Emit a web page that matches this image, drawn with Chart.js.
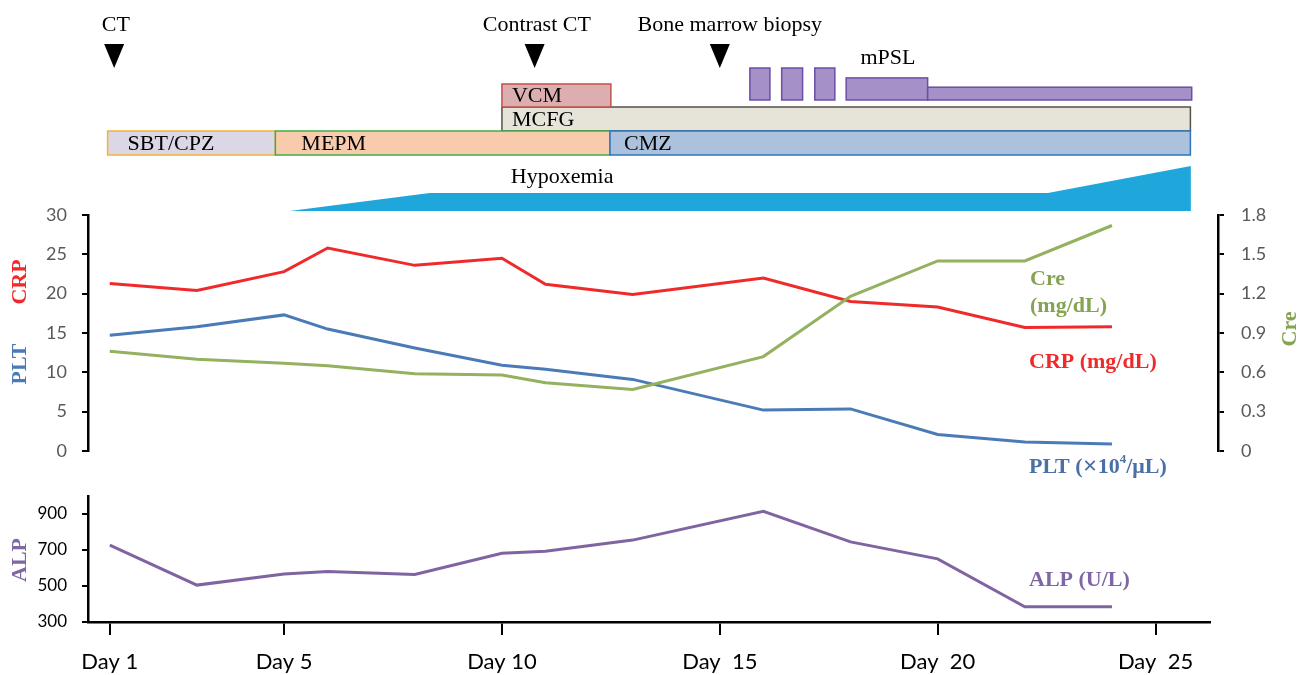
<!DOCTYPE html>
<html>
<head>
<meta charset="utf-8">
<script src="https://cdn.jsdelivr.net/npm/chart.js@4.4.0/dist/chart.umd.min.js"></script>
<style>
  html, body { margin: 0; padding: 0; background: #fff; }
  #wrap { position: relative; width: 1311px; height: 675px; }
  #mainChart { position: absolute; left: 0; top: 0; }
  #alpChart { position: absolute; left: 0; top: 480px; }
</style>
</head>
<body>
<div id="wrap">
  <canvas id="mainChart" width="1311" height="480"></canvas>
  <canvas id="alpChart" width="1311" height="195"></canvas>
</div>
<script>
// Lab values by hospital day
const days = [1, 3, 5, 6, 8, 10, 11, 13, 16, 18, 20, 22, 24];
const crp = [21.3, 20.4, 22.8, 25.8, 23.6, 24.5, 21.2, 19.9, 22.0, 19.0, 18.3, 15.7, 15.8];
const plt = [14.7, 15.8, 17.3, 15.5, 13.1, 10.9, 10.4, 9.1, 5.2, 5.35, 2.1, 1.15, 0.9];
const cre = [0.76, 0.70, 0.67, 0.65, 0.59, 0.58, 0.52, 0.47, 0.72, 1.18, 1.45, 1.45, 1.72];
const alp = [727, 505, 567, 580, 564, 682, 693, 755, 915, 745, 651, 385, 385];

// Axis ticks
const dayTicks = [1, 5, 10, 15, 20, 25];
const dayTickLabels = ['Day 1', 'Day 5', 'Day 10', 'Day  15', 'Day  20', 'Day  25'];
const leftTicks = [0, 5, 10, 15, 20, 25, 30];
const creTicks = [0, 0.3, 0.6, 0.9, 1.2, 1.5, 1.8];
const alpTicks = [300, 500, 700, 900];

// Examinations
const events = ['CT', 'Contrast CT', 'Bone marrow biopsy'];
const eventDays = [1.1, 10.75, 15.0];
const eventLabelDays = [1.14, 10.8, 15.23];

// Treatments (day ranges)
const drugs = ['SBT/CPZ', 'MEPM', 'CMZ', 'MCFG', 'VCM'];
const drugStart = [0.95, 4.8, 12.48, 10.0, 10.0];
const drugEnd = [4.8, 12.48, 25.8, 25.8, 12.5];
const mpslStart = [15.69, 16.42, 17.18, 17.9, 19.77];
const mpslEnd = [16.15, 16.9, 17.64, 19.77, 25.83];
const mpslLevel = [1, 1, 1, 0.69, 0.4];
const hypoxDays = [5.13, 8.34, 22.53, 25.81];
const hypoxLevel = [0, 1, 1, 2.5];

const SERIF = '"Liberation Serif", "Times New Roman", serif';
const SANS = 'Lato, "Open Sans", sans-serif';

const RED = '#f02a2a';
const BLUE = '#4a7bb6';
const GREEN = '#93b15f';
const PURPLE = '#8064a2';

// x range: both panels share the same day->pixel mapping
const X_MIN = 0.5;
const X_MAX_ALP = 26.25;
const X_MAX_MAIN = X_MIN + (X_MAX_ALP - X_MIN) * (1218 - 88) / (1210 - 88);

// bar look per drug
const drugStyle = {
    'SBT/CPZ': { top: 131, h: 24, fill: '#dcd7e7', stroke: '#f5b335', pad: 20 },
    'MEPM':    { top: 131, h: 24, fill: '#f8cbad', stroke: '#3fae4a', pad: 26 },
    'CMZ':     { top: 131, h: 24, fill: '#abc1dc', stroke: '#2e75c0', pad: 14 },
    'MCFG':    { top: 107, h: 24, fill: '#e6e3d8', stroke: '#55524a', pad: 10 },
    'VCM':     { top: 84,  h: 23, fill: '#ddaeb0', stroke: '#c0504d', pad: 10 }
};

const makeLine = (values, color, axis) => ({
    data: days.map((d, i) => ({ x: d, y: values[i] })),
    borderColor: color,
    borderWidth: 3,
    pointRadius: 0,
    tension: 0,
    fill: false,
    yAxisID: axis
});

function vText(ctx, text, x, y, color) {
    ctx.save();
    ctx.translate(x, y);
    ctx.rotate(-Math.PI / 2);
    ctx.fillStyle = color;
    ctx.font = `bold 22px ${SERIF}`;
    ctx.textAlign = 'center';
    ctx.textBaseline = 'middle';
    ctx.fillText(text, 0, 0);
    ctx.restore();
}

const timelinePlugin = {
    id: 'timeline',
    afterDraw(chart) {
        const { ctx } = chart;
        const px = d => chart.scales.x.getPixelForValue(d);
        ctx.save();

        // examinations with arrow heads
        ctx.fillStyle = '#000';
        ctx.font = `22px ${SERIF}`;
        ctx.textAlign = 'center';
        ctx.textBaseline = 'middle';
        events.forEach((name, i) => {
            ctx.fillText(name, px(eventLabelDays[i]), 25);
            const cx = px(eventDays[i]);
            ctx.beginPath();
            ctx.moveTo(cx - 10, 44);
            ctx.lineTo(cx + 10, 44);
            ctx.lineTo(cx, 68);
            ctx.closePath();
            ctx.fill();
        });

        // drug bars (MCFG/VCM first so the bottom row sits over their edges)
        ctx.lineWidth = 1.5;
        ['MCFG', 'VCM', 'SBT/CPZ', 'MEPM', 'CMZ'].forEach(name => {
            const i = drugs.indexOf(name);
            const st = drugStyle[name];
            const x0 = px(drugStart[i]), x1 = px(drugEnd[i]);
            ctx.fillStyle = st.fill;
            ctx.strokeStyle = st.stroke;
            ctx.fillRect(x0, st.top, x1 - x0, st.h);
            ctx.strokeRect(x0, st.top, x1 - x0, st.h);
        });
        ctx.fillStyle = '#000';
        ctx.textAlign = 'left';
        drugs.forEach((name, i) => {
            const st = drugStyle[name];
            ctx.fillText(name, px(drugStart[i]) + st.pad, st.top + st.h / 2 + 1);
        });

        // mPSL blocks
        ctx.fillStyle = '#a690c8';
        ctx.strokeStyle = '#6a4fa6';
        mpslStart.forEach((s, i) => {
            const x0 = px(s), x1 = px(mpslEnd[i]);
            const h = 32 * mpslLevel[i];
            ctx.fillRect(x0, 100 - h, x1 - x0, h);
            ctx.strokeRect(x0, 100 - h, x1 - x0, h);
        });
        ctx.fillStyle = '#000';
        ctx.textAlign = 'center';
        ctx.fillText('mPSL', px(18.86), 58);

        // hypoxemia wedge
        ctx.fillStyle = '#1fa7dc';
        ctx.beginPath();
        ctx.moveTo(px(hypoxDays[0]), 211);
        hypoxDays.forEach((d, i) => ctx.lineTo(px(d), 211 - 18 * hypoxLevel[i]));
        ctx.lineTo(px(hypoxDays[hypoxDays.length - 1]), 211);
        ctx.closePath();
        ctx.fill();
        ctx.fillStyle = '#000';
        ctx.fillText('Hypoxemia', px(11.38), 177);

        // axis titles
        vText(ctx, 'CRP', 20, 282, RED);
        vText(ctx, 'PLT', 20, 364, BLUE);
        vText(ctx, 'Cre', 1290, 329, '#86a352');

        // series labels
        ctx.font = `bold 22px ${SERIF}`;
        ctx.textAlign = 'left';
        ctx.fillStyle = '#86a352';
        ctx.fillText('Cre', 1030, 279);
        ctx.fillText('(mg/dL)', 1030, 306);
        ctx.fillStyle = RED;
        ctx.fillText('CRP (mg/dL)', 1029, 362);
        ctx.fillStyle = '#4a70a6';
        let tx = 1029;
        const parts = [['PLT (', 22, 467, SERIF], ['\u2715', 18, 467, '"DejaVu Sans", sans-serif'], ['10', 22, 467, SERIF], ['4', 13, 460, SERIF], ['/\u03bcL)', 22, 467, SERIF]];
        parts.forEach(([t, size, y, fam]) => {
            ctx.font = `bold ${size}px ${fam}`;
            ctx.fillText(t, tx, y);
            tx += ctx.measureText(t).width;
        });
        ctx.restore();
    }
};

const alpLabelPlugin = {
    id: 'alpLabels',
    afterDraw(chart) {
        const { ctx } = chart;
        vText(ctx, 'ALP', 20, 80, '#7f66a4');
        ctx.save();
        ctx.font = `bold 22px ${SERIF}`;
        ctx.fillStyle = '#7f66a4';
        ctx.textAlign = 'left';
        ctx.textBaseline = 'middle';
        ctx.fillText('ALP (U/L)', 1029, 100);
        ctx.restore();
    }
};

const axisLine = { display: true, color: '#000', width: 2.5 };
const tickMarks = len => ({ drawOnChartArea: false, drawTicks: true, tickLength: len, color: '#000', lineWidth: 2 });

new Chart(document.getElementById('mainChart'), {
    type: 'line',
    data: {
        datasets: [
            makeLine(cre, GREEN, 'y1'),
            makeLine(crp, RED, 'y'),
            makeLine(plt, BLUE, 'y')
        ]
    },
    options: {
        responsive: false,
        animation: false,
        layout: { padding: { left: 0, right: 0, top: 215, bottom: 29 } },
        plugins: { legend: { display: false }, tooltip: { enabled: false } },
        scales: {
            x: { type: 'linear', display: false, min: X_MIN, max: X_MAX_MAIN },
            y: {
                position: 'left', min: 0, max: 30,
                afterFit: s => { s.width = 88; },
                afterBuildTicks: s => { s.ticks = leftTicks.map(v => ({ value: v })); },
                grid: tickMarks(6),
                border: axisLine,
                ticks: { color: '#595959', font: { family: SANS, size: 18 }, padding: 15 }
            },
            y1: {
                position: 'right', min: 0, max: 1.8,
                afterFit: s => { s.width = 93; },
                afterBuildTicks: s => { s.ticks = creTicks.map(v => ({ value: v })); },
                grid: tickMarks(6),
                border: axisLine,
                ticks: {
                    color: '#595959', font: { family: SANS, size: 18 }, padding: 17,
                    callback: v => String(v)
                }
            }
        }
    },
    plugins: [timelinePlugin]
});

new Chart(document.getElementById('alpChart'), {
    type: 'line',
    data: { datasets: [makeLine(alp, PURPLE, 'y')] },
    options: {
        responsive: false,
        animation: false,
        layout: { padding: { left: 0, right: 101, top: 16, bottom: 0 } },
        plugins: { legend: { display: false }, tooltip: { enabled: false } },
        scales: {
            x: {
                type: 'linear', min: X_MIN, max: X_MAX_ALP,
                afterFit: s => { s.height = 53; },
                afterBuildTicks: s => { s.ticks = dayTicks.map(v => ({ value: v })); },
                grid: tickMarks(13),
                border: axisLine,
                ticks: {
                    color: '#000', font: { family: SANS, size: 22 }, padding: 14,
                    maxRotation: 0, autoSkip: false,
                    callback: v => dayTickLabels[dayTicks.indexOf(v)]
                }
            },
            y: {
                position: 'left', min: 300, max: 1000,
                // the top tick (1000) is hidden, so no label overhang is needed
                afterFit: s => { s.width = 88; s.paddingTop = 0; s.paddingBottom = 0; },
                afterBuildTicks: s => { s.ticks = alpTicks.map(v => ({ value: v })); },
                grid: tickMarks(6),
                border: axisLine,
                ticks: { color: '#000', font: { family: SANS, size: 17 }, padding: 15 }
            }
        }
    },
    plugins: [alpLabelPlugin]
});
</script>
</body>
</html>
